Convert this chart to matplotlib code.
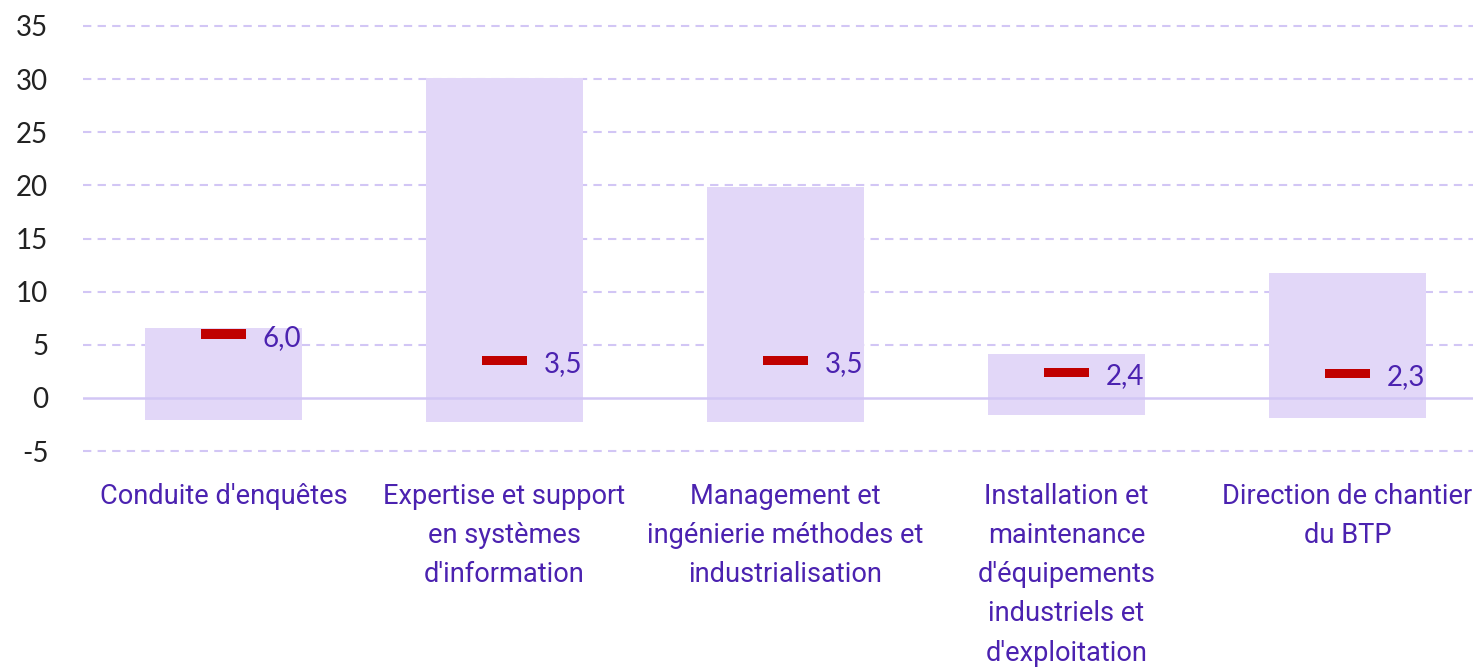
import numpy as np
import matplotlib.pyplot as plt

# Données
categories = ["Conduite d'enquêtes",
              "Expertise et support\nen systèmes\nd'information",
              "Management et\ningénierie méthodes et\nindustrialisation",
              "Installation et\nmaintenance\nd'équipements\nindustriels et\nd'exploitation",
              "Direction de chantier\ndu BTP"]
bas = [-2.1, -2.3, -2.3, -1.6, -1.9]
haut = [6.6, 30.1, 19.8, 4.1, 11.8]
mediane = [6.0, 3.5, 3.5, 2.4, 2.3]
etiquettes = ["6,0", "3,5", "3,5", "2,4", "2,3"]

violet = '#4B22B0'
lavande = '#E2D7F8'
grille = '#D2C6F5'

fig = plt.figure(figsize=(14.73, 6.71), dpi=100)
ax = fig.add_axes([83 / 1473, 220 / 671, 1405 / 1473, 425 / 671])

x = np.arange(len(categories))
ax.set_xlim(-0.5, len(categories) - 0.5)
ax.set_ylim(-5, 35)

ax.bar(x, np.array(haut) - np.array(bas), bottom=bas, width=0.56,
       color=lavande, zorder=2)
ax.bar(x, 0.9, bottom=np.array(mediane) - 0.45, width=0.16,
       color='#C00000', zorder=4)
for xi, m, t in zip(x, mediane, etiquettes):
    ax.text(xi + 0.14, m - 0.35, t, ha='left', va='center', fontsize=20,
            color=violet, family='Lato', zorder=5)

for v in range(-5, 40, 5):
    if v == 0:
        continue
    ax.axhline(v, color=grille, lw=1.5, ls=(0, (4, 3)), zorder=1, clip_on=False)
ax.axhline(0, color=grille, lw=1.8, zorder=3)

ax.set_yticks(range(-5, 40, 5))
ax.set_yticklabels([str(v) for v in range(-5, 40, 5)], fontsize=20,
                   family='Lato', color='#222222')
ax.set_xticks(x)
ax.set_xticklabels(categories, fontsize=19.6, family='Roboto', color=violet,
                   linespacing=1.58, va='top')
ax.tick_params(axis='y', length=0, pad=25)
ax.tick_params(axis='x', length=0, pad=23)
for s in ax.spines.values():
    s.set_visible(False)

fig.savefig('out.png', dpi=100)
